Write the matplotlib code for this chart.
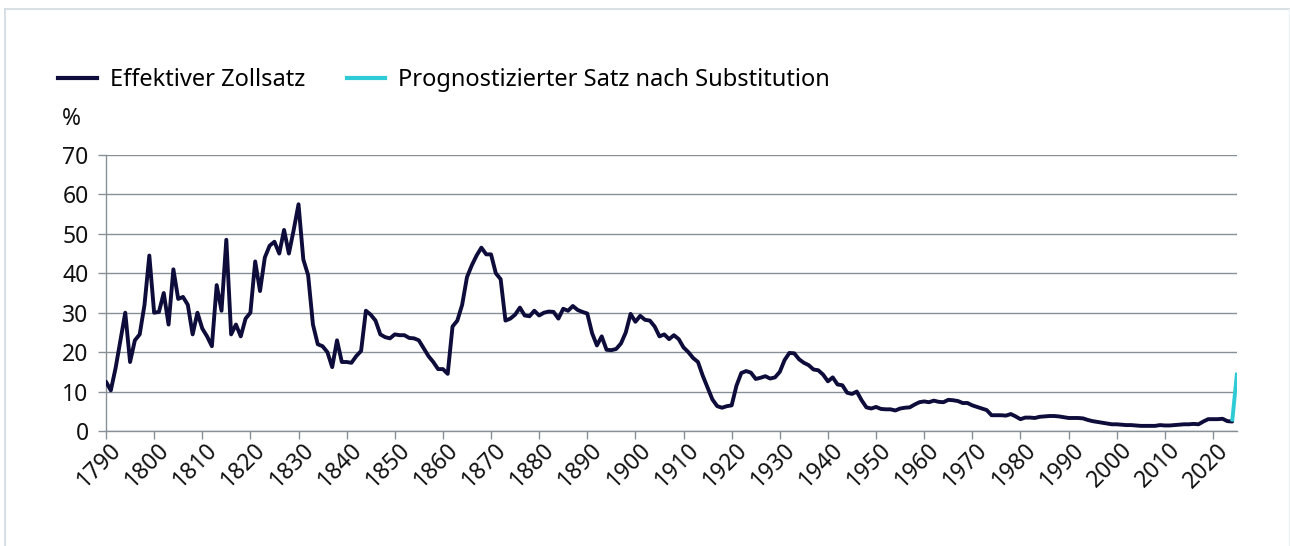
import matplotlib
matplotlib.use("Agg")
import matplotlib.pyplot as plt
import matplotlib.transforms as mtransforms
from matplotlib.lines import Line2D

# ---------------- data ----------------
years = list(range(1790, 2025))
effective_rate = [
    12.5, 10.3, 16, 23, 30, 17.5, 23, 24.5, 32, 44.5,          # 1790s
    30, 30.2, 35, 27, 41, 33.5, 34, 32, 24.5, 30,               # 1800s
    26, 24, 21.5, 37, 30.5, 48.5, 24.5, 27, 24, 28.5,           # 1810s
    30, 43, 35.5, 44, 47, 48, 45, 51, 45, 51,                   # 1820s
    57.5, 43.5, 39.5, 27, 22, 21.5, 20, 16.2, 23, 17.5,         # 1830s
    17.5, 17.3, 19, 20.3, 30.5, 29.5, 28, 24.5, 23.8, 23.5,     # 1840s
    24.5, 24.3, 24.3, 23.6, 23.5, 23, 21, 19, 17.5, 15.7,       # 1850s
    15.7, 14.5, 26.5, 28, 32, 39, 42, 44.5, 46.5, 44.8,         # 1860s
    44.8, 40, 38.5, 28, 28.5, 29.5, 31.3, 29.3, 29.1, 30.5,     # 1870s
    29.3, 30, 30.3, 30.2, 28.5, 31, 30.5, 31.7, 30.7, 30.2,     # 1880s
    29.8, 24.8, 21.7, 24, 20.6, 20.5, 20.8, 22.2, 25, 29.7,     # 1890s
    27.7, 29.2, 28.2, 28, 26.5, 24, 24.5, 23.3, 24.3, 23.3,     # 1900s
    21.2, 20, 18.5, 17.5, 14, 11, 8, 6.3, 5.9, 6.3,             # 1910s
    6.5, 11.5, 14.7, 15.2, 14.8, 13.2, 13.5, 13.9, 13.3, 13.6,  # 1920s
    15, 18, 19.8, 19.7, 18.2, 17.3, 16.7, 15.6, 15.4, 14.3,     # 1930s
    12.6, 13.6, 11.8, 11.6, 9.7, 9.4, 10, 7.8, 6, 5.7,          # 1940s
    6.1, 5.6, 5.5, 5.5, 5.2, 5.7, 5.9, 6, 6.7, 7.3,             # 1950s
    7.5, 7.3, 7.7, 7.4, 7.3, 7.9, 7.8, 7.6, 7.1, 7.1,           # 1960s
    6.5, 6.1, 5.7, 5.3, 4, 4, 4, 3.9, 4.3, 3.7,                 # 1970s
    3, 3.4, 3.4, 3.3, 3.6, 3.7, 3.8, 3.8, 3.7, 3.5,             # 1980s
    3.3, 3.3, 3.3, 3.2, 2.8, 2.5, 2.3, 2.1, 1.9, 1.7,           # 1990s
    1.7, 1.6, 1.5, 1.5, 1.4, 1.3, 1.3, 1.3, 1.3, 1.5,           # 2000s
    1.4, 1.4, 1.5, 1.6, 1.7, 1.7, 1.8, 1.7, 2.4, 3.0,           # 2010s
    3.0, 3.0, 3.1, 2.5, 2.4,                                    # 2020s
]
forecast_years = [2024, 2025]
forecast_rate = [2.4, 14.8]

x_ticks = list(range(1790, 2021, 10))
y_ticks = [0, 10, 20, 30, 40, 50, 60, 70]

label_main = "Effektiver Zollsatz"
label_fc = "Prognostizierter Satz nach Substitution"

# ---------------- style ----------------
NAVY = "#0d0c3a"
CYAN = "#2ecbd6"
GRID = "#878f97"
TXT = "#111111"
plt.rcParams["font.family"] = ["Noto Sans", "DejaVu Sans"]
FS_LEG = 17
FS_TICK = 16.5

W, H = 1290, 546
fig = plt.figure(figsize=(W / 100, H / 100), dpi=100)
ax = fig.add_axes([106 / W, 1 - 431 / H, (1237 - 106) / W, (431 - 155) / H])

ax.plot(years, effective_rate, color=NAVY, lw=2.8, solid_joinstyle="round",
        solid_capstyle="round", label=label_main, zorder=3)
ax.plot(forecast_years, forecast_rate, color=CYAN, lw=2.8,
        solid_capstyle="butt", label=label_fc, zorder=3)

ax.set_xlim(1790, 2025)
ax.set_ylim(0, 70)
ax.set_xticks(x_ticks)
ax.set_yticks(y_ticks)
ax.set_xticklabels([str(t) for t in x_ticks])
ax.yaxis.grid(True, color=GRID, lw=1.0)
ax.set_axisbelow(True)
for s in ("top", "right"):
    ax.spines[s].set_visible(False)
for s in ("left", "bottom"):
    ax.spines[s].set_color(GRID)
    ax.spines[s].set_linewidth(1.0)

ax.tick_params(axis="y", length=5.5, width=1.0, color=GRID, pad=7,
               labelsize=FS_TICK, labelcolor=TXT)
ax.tick_params(axis="x", length=5.5, width=1.0, color=GRID, pad=6,
               labelsize=FS_TICK, labelcolor=TXT)

offset = mtransforms.ScaledTranslation(12 / 100, 0, fig.dpi_scale_trans)
for lbl in ax.get_xticklabels():
    lbl.set_rotation(45)
    lbl.set_ha("right")
    lbl.set_va("center")
    lbl.set_rotation_mode("anchor")
    lbl.set_transform(lbl.get_transform() + offset)

# unit label
fig.text(62 / W, 1 - 119 / H, "%", fontsize=FS_TICK, color=TXT,
         ha="left", va="center")

# legend
handles = [Line2D([], [], color=NAVY, lw=3.0), Line2D([], [], color=CYAN, lw=3.0)]
fig.legend(handles, [label_main, label_fc], loc="center left",
           bbox_to_anchor=(58 / W, 1 - 80 / H), ncol=2, frameon=False,
           fontsize=FS_LEG, handlelength=1.65, handletextpad=0.55,
           columnspacing=1.75, borderpad=0, borderaxespad=0)

# outer frame
FRAME = "#d6dde3"
fig.add_artist(Line2D([4.5 / W, 4.5 / W], [0, 1 - 8.5 / H], color=FRAME, lw=1.3,
                      transform=fig.transFigure))
fig.add_artist(Line2D([4.5 / W, 1], [1 - 8.5 / H, 1 - 8.5 / H], color=FRAME, lw=1.3,
                      transform=fig.transFigure))
fig.add_artist(Line2D([1288.5 / W, 1288.5 / W], [0, 1 - 8.5 / H], color="#eef1f3",
                      lw=1.0, transform=fig.transFigure))

fig.savefig("out.png", dpi=100)
